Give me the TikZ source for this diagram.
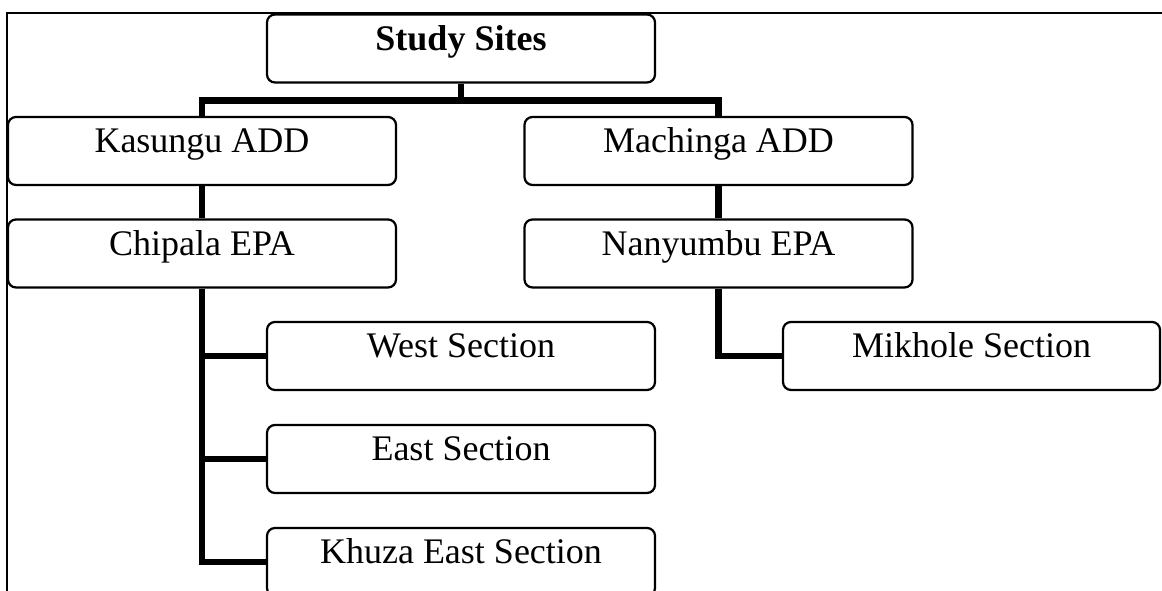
\documentclass[tikz,border=0pt]{standalone}
\usepackage{fontspec}
\setmainfont{Liberation Serif}
\usetikzlibrary{positioning}
\tikzset{
  frame/.style={line width=0.8pt},
  site/.style={rectangle,draw,rounded corners=3.2pt,line width=0.9pt,fill=white,
               minimum width=155.2pt,minimum height=27.2pt,inner sep=0,
               text height=14.4pt,text depth=12.8pt,font=\fontsize{14.4}{17}\selectfont},
  % thick elbow connectors of the tree
  link/.style={line width=2.6pt},
}

\begin{document}
\begin{tikzpicture}[x=0.4pt,y=-0.4pt]
  \useasboundingbox (0,0) rectangle (1162,591);
  % outer frame, only top and left edges show
  \draw[frame] (7,591) -- (7,13) -- (1162,13);
  % top level
  \node[site] (study) at (461,48.5) {\textbf{Study Sites}};
  % ADDs
  \node[site] (kasungu) at (202,151) {Kasungu ADD};
  \node[site] (machinga) at (718.5,151) {Machinga ADD};
  % EPAs
  \node[site] (chipala) at (202,253.5) {Chipala EPA};
  \node[site] (nanyumbu) at (718.5,253.5) {Nanyumbu EPA};
  % sections
  \node[site] (west) at (461,356) {West Section};
  \node[site] (east) at (461,459) {East Section};
  \node[site] (khuza) at (461,562) {Khuza East Section};
  \node[site,minimum width=150.8pt] (mikhole) at (971.5,356) {Mikhole Section};
  % connectors
  \draw[link] (study.south) -- ++(0,17) coordinate (hub);
  \draw[link] (kasungu.north) |- (hub) -| (machinga.north);
  \draw[link] (kasungu.south) -- (chipala.north);
  \draw[link] (machinga.south) -- (nanyumbu.north);
  \draw[link] (chipala.south) |- (khuza.west);
  \draw[link] (chipala.south |- west.west) -- (west.west);
  \draw[link] (chipala.south |- east.west) -- (east.west);
  \draw[link] (nanyumbu.south) |- (mikhole.west);
\end{tikzpicture}
\end{document}
